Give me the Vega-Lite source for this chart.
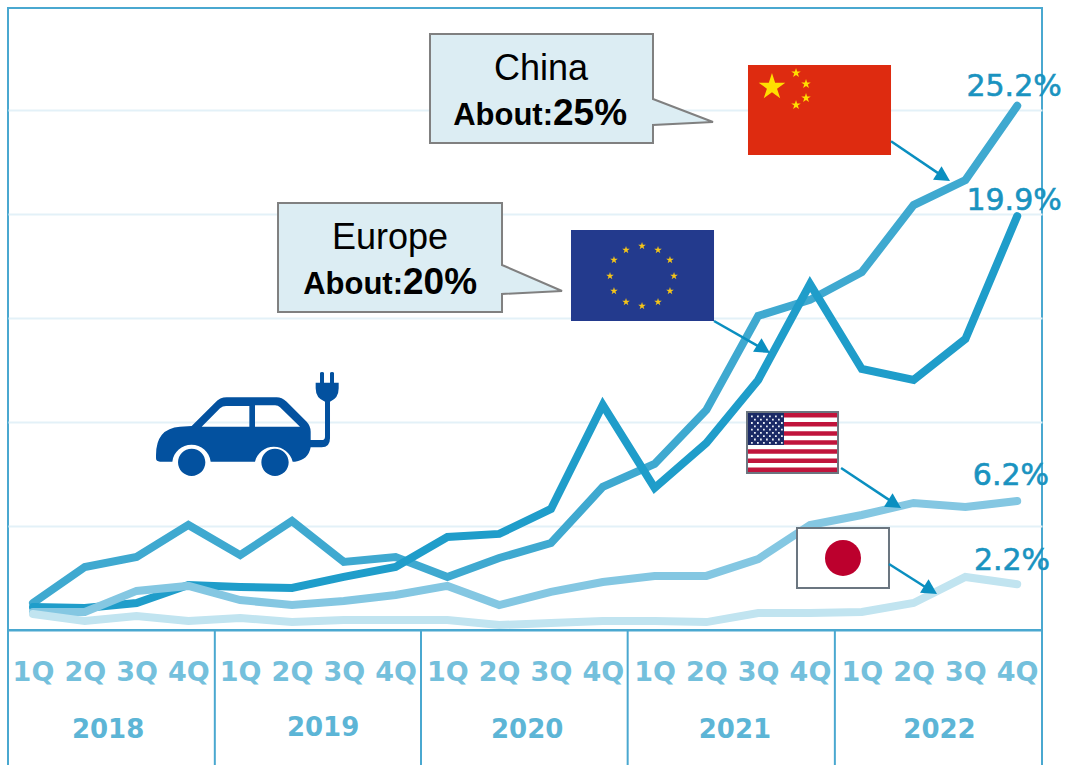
{
"$schema":"https://vega.github.io/schema/vega-lite/v6.json",
"width":1034,"height":622,
"autosize":"none",
"padding":{"left":8,"top":8,"right":28,"bottom":135},
"background":"white",
"config":{"view":{"stroke":"#4aa8d0","strokeWidth":2}},
"encoding":{
 "x":{"field":"q","type":"quantitative","scale":{"domain":[-0.4826,19.4788],"nice":false,"zero":false},
  "axis":{"orient":"bottom","title":null,"values":[0,1,2,3,4,5,6,7,8,9,10,11,12,13,14,15,16,17,18,19],"grid":false,"ticks":false,"domain":true,"domainColor":"#4aa8d0","domainWidth":2,
   "labelExpr":"['1Q','2Q','3Q','4Q'][datum.value % 4]","labelFont":"DejaVu Sans","labelFontWeight":"bold","labelFontSize":27,"labelColor":"#74c0dc","labelPadding":29,"labelOverlap":false,"labelFlush":false,"labelBound":false}},
 "y":{"field":"v","type":"quantitative","scale":{"domain":[0,29.904],"nice":false,"zero":false},
  "axis":{"title":null,"values":[5,10,15,20,25],"grid":true,"gridColor":"#e3f1f8","gridWidth":2,"ticks":false,"labels":false,"domain":false}}
},
"layer":[
{"data":{"values":[
{"series":"China","q":0,"v":1.3},{"series":"China","q":1,"v":3.03},{"series":"China","q":2,"v":3.51},{"series":"China","q":3,"v":5.05},{"series":"China","q":4,"v":3.6},{"series":"China","q":5,"v":5.24},{"series":"China","q":6,"v":3.27},{"series":"China","q":7,"v":3.51},{"series":"China","q":8,"v":2.55},{"series":"China","q":9,"v":3.46},{"series":"China","q":10,"v":4.18},{"series":"China","q":11,"v":6.88},{"series":"China","q":12,"v":7.98},{"series":"China","q":13,"v":10.58},{"series":"China","q":14,"v":15.1},{"series":"China","q":15,"v":15.87},{"series":"China","q":16,"v":17.2},{"series":"China","q":17,"v":20.43},{"series":"China","q":18,"v":21.63},{"series":"China","q":19,"v":25.2},
{"series":"Europe","q":0,"v":1.1},{"series":"Europe","q":1,"v":1.06},{"series":"Europe","q":2,"v":1.3},{"series":"Europe","q":3,"v":2.16},{"series":"Europe","q":4,"v":2.07},{"series":"Europe","q":5,"v":2.02},{"series":"Europe","q":6,"v":2.55},{"series":"Europe","q":7,"v":3.03},{"series":"Europe","q":8,"v":4.47},{"series":"Europe","q":9,"v":4.62},{"series":"Europe","q":10,"v":5.82},{"series":"Europe","q":11,"v":10.82},{"series":"Europe","q":12,"v":6.83},{"series":"Europe","q":13,"v":8.99},{"series":"Europe","q":14,"v":12.02},{"series":"Europe","q":15,"v":16.63},{"series":"Europe","q":16,"v":12.55},{"series":"Europe","q":17,"v":12.02},{"series":"Europe","q":18,"v":13.99},{"series":"Europe","q":19,"v":19.9},
{"series":"USA","q":0,"v":0.87},{"series":"USA","q":1,"v":0.87},{"series":"USA","q":2,"v":1.88},{"series":"USA","q":3,"v":2.12},{"series":"USA","q":4,"v":1.44},{"series":"USA","q":5,"v":1.2},{"series":"USA","q":6,"v":1.39},{"series":"USA","q":7,"v":1.68},{"series":"USA","q":8,"v":2.12},{"series":"USA","q":9,"v":1.2},{"series":"USA","q":10,"v":1.83},{"series":"USA","q":11,"v":2.31},{"series":"USA","q":12,"v":2.6},{"series":"USA","q":13,"v":2.6},{"series":"USA","q":14,"v":3.41},{"series":"USA","q":15,"v":5.05},{"series":"USA","q":16,"v":5.53},{"series":"USA","q":17,"v":6.11},{"series":"USA","q":18,"v":5.91},{"series":"USA","q":19,"v":6.2},
{"series":"Japan","q":0,"v":0.77},{"series":"Japan","q":1,"v":0.43},{"series":"Japan","q":2,"v":0.67},{"series":"Japan","q":3,"v":0.43},{"series":"Japan","q":4,"v":0.58},{"series":"Japan","q":5,"v":0.38},{"series":"Japan","q":6,"v":0.48},{"series":"Japan","q":7,"v":0.48},{"series":"Japan","q":8,"v":0.48},{"series":"Japan","q":9,"v":0.24},{"series":"Japan","q":10,"v":0.34},{"series":"Japan","q":11,"v":0.43},{"series":"Japan","q":12,"v":0.43},{"series":"Japan","q":13,"v":0.38},{"series":"Japan","q":14,"v":0.82},{"series":"Japan","q":15,"v":0.82},{"series":"Japan","q":16,"v":0.87},{"series":"Japan","q":17,"v":1.3},{"series":"Japan","q":18,"v":2.55},{"series":"Japan","q":19,"v":2.2}
]},
"mark":{"type":"line","strokeWidth":8,"strokeCap":"round","strokeJoin":"miter"},
"encoding":{
 "color":{"field":"series","type":"nominal","legend":null,"scale":{"domain":["China","Europe","USA","Japan"],"range":["#3fa9d0","#1f9dca","#84c7e2","#c1e4f0"]}}
}},
{"data":{"values":[{"q":-0.4826,"v":0,"v2":-6.49},{"q":3.51,"v":0,"v2":-6.49},{"q":7.49,"v":0,"v2":-6.49},{"q":11.48,"v":0,"v2":-6.49},{"q":15.48,"v":0,"v2":-6.49},{"q":19.4788,"v":0,"v2":-6.49}]},
"mark":{"type":"rule","stroke":"#4aa8d0","strokeWidth":2},
"encoding":{"y2":{"field":"v2"}}},
{"data":{"values":[{"q":1.45,"v":-5.2,"year":"2018"},{"q":5.6,"v":-5.1,"year":"2019"},{"q":9.54,"v":-5.2,"year":"2020"},{"q":13.55,"v":-5.2,"year":"2021"},{"q":17.5,"v":-5.2,"year":"2022"}]},
"mark":{"type":"text","font":"DejaVu Sans","fontWeight":"bold","fontSize":26,"color":"#5cb5d6","align":"center","baseline":"alphabetic"},
"encoding":{"text":{"field":"year"}}},
{"data":{"values":[{"q":7.664,"v":28.654}]},
"mark":{"type":"point","filled":true,"fill":"#dcedf3","stroke":"#808080","strokeWidth":2,"opacity":1,"size":4,"shape":"M0 0H223V65L283 88L223 91V109H0Z"}},
{"data":{"values":[{"q":4.73,"v":20.529}]},
"mark":{"type":"point","filled":true,"fill":"#dcedf3","stroke":"#808080","strokeWidth":2,"opacity":1,"size":4,"shape":"M0 0H224V62L284 88L224 91V109H0Z"}},
{"data":{"values":[{"q":2.066,"v":12.981}]},
"mark":{"type":"point","filled":true,"fill":"#03519f","opacity":1,"size":0.4444,"shape":"M48 285Q48 205 120 200L155 198L225 128Q240 112 260 112L410 112Q425 112 440 125L500 185Q512 198 512 215L512 240L545 240Q555 240 555 230L555 125Q527 115 527 85L527 68L540 68L540 40Q540 36 546 36Q552 36 552 40L552 68L570 68L570 40Q570 36 576 36Q582 36 582 40L582 68L596 68L596 85Q596 115 570 125L570 235Q570 262 545 262L512 262Q505 300 465 305L458 305A58 58 0 0 0 345 305L212 305A58 58 0 0 0 97 305L60 305Q48 305 48 295ZM185 200L328 200L328 138L258 138Q248 138 240 145ZM345 200L480 200L420 142Q414 136 405 136L345 136ZM114 307A41 41 0 1 1 196 307A41 41 0 1 1 114 307ZM364 307A41 41 0 1 1 446 307A41 41 0 1 1 364 307Z"}},
{"data":{"values":[{"q":13.803,"q2":16.564,"v":27.163,"v2":22.837}]},
"mark":{"type":"rect","fill":"#de2b10"},
"encoding":{"x2":{"field":"q2"},"y2":{"field":"v2"}}},
{"data":{"values":[{"q":10.386,"q2":13.147,"v":19.231,"v2":14.856}]},
"mark":{"type":"rect","fill":"#233a8d"},
"encoding":{"x2":{"field":"q2"},"y2":{"field":"v2"}}},
{"data":{"values":[{"q":13.784,"q2":15.541,"v":10.481,"v2":7.548},{"q":14.749,"q2":16.525,"v":4.904,"v2":2.019}]},
"mark":{"type":"rect","fill":"#ffffff","stroke":"#6b7680","strokeWidth":2},
"encoding":{"x2":{"field":"q2"},"y2":{"field":"v2"}}},
{"data":{"values":[{"q":13.803,"v":10.433}]},
"mark":{"type":"point","filled":true,"fill":"#c0143c","opacity":1,"size":4,"shape":"M0 0h89v4.5h-89zM0 9.1h89v4.5h-89zM0 18.2h89v4.5h-89zM0 27.2h89v4.5h-89zM0 36.3h89v4.5h-89zM0 45.4h89v4.5h-89zM0 54.5h89v4.5h-89z"}},
{"data":{"values":[{"q":13.803,"v":10.433}]},
"mark":{"type":"point","filled":true,"fill":"#1b2a66","opacity":1,"size":4,"shape":"M0 0h36v32h-36z"}},
{"data":{"values":[{"q":13.803,"v":10.433}]},
"mark":{"type":"point","filled":true,"fill":"#e8ecf4","opacity":1,"size":4,"shape":"M3 2.5h1.8v1.8h-1.8zM9 2.5h1.8v1.8h-1.8zM15 2.5h1.8v1.8h-1.8zM21 2.5h1.8v1.8h-1.8zM27 2.5h1.8v1.8h-1.8zM33 2.5h1.8v1.8h-1.8zM6 5.8h1.8v1.8h-1.8zM12 5.8h1.8v1.8h-1.8zM18 5.8h1.8v1.8h-1.8zM24 5.8h1.8v1.8h-1.8zM30 5.8h1.8v1.8h-1.8zM3 9.1h1.8v1.8h-1.8zM9 9.1h1.8v1.8h-1.8zM15 9.1h1.8v1.8h-1.8zM21 9.1h1.8v1.8h-1.8zM27 9.1h1.8v1.8h-1.8zM33 9.1h1.8v1.8h-1.8zM6 12.4h1.8v1.8h-1.8zM12 12.4h1.8v1.8h-1.8zM18 12.4h1.8v1.8h-1.8zM24 12.4h1.8v1.8h-1.8zM30 12.4h1.8v1.8h-1.8zM3 15.7h1.8v1.8h-1.8zM9 15.7h1.8v1.8h-1.8zM15 15.7h1.8v1.8h-1.8zM21 15.7h1.8v1.8h-1.8zM27 15.7h1.8v1.8h-1.8zM33 15.7h1.8v1.8h-1.8zM6 19h1.8v1.8h-1.8zM12 19h1.8v1.8h-1.8zM18 19h1.8v1.8h-1.8zM24 19h1.8v1.8h-1.8zM30 19h1.8v1.8h-1.8zM3 22.3h1.8v1.8h-1.8zM9 22.3h1.8v1.8h-1.8zM15 22.3h1.8v1.8h-1.8zM21 22.3h1.8v1.8h-1.8zM27 22.3h1.8v1.8h-1.8zM33 22.3h1.8v1.8h-1.8zM6 25.6h1.8v1.8h-1.8zM12 25.6h1.8v1.8h-1.8zM18 25.6h1.8v1.8h-1.8zM24 25.6h1.8v1.8h-1.8zM30 25.6h1.8v1.8h-1.8zM3 28.9h1.8v1.8h-1.8zM9 28.9h1.8v1.8h-1.8zM15 28.9h1.8v1.8h-1.8zM21 28.9h1.8v1.8h-1.8zM27 28.9h1.8v1.8h-1.8zM33 28.9h1.8v1.8h-1.8z"}},
{"data":{"values":[{"q":15.637,"v":3.462}]},
"mark":{"type":"point","shape":"circle","filled":true,"fill":"#bc002d","opacity":1,"size":1296}},
{"data":{"values":[{"q":14.266,"v":26.106}]},
"mark":{"type":"point","filled":true,"fill":"#ffde00","opacity":1,"size":784,"shape":"M0 -1L.225 -.309L.951 -.309L.363 .118L.588 .809L0 .382L-.588 .809L-.363 .118L-.951 -.309L-.225 -.309Z"}},
{"data":{"values":[{"q":14.73,"v":26.779},{"q":14.923,"v":26.25},{"q":14.923,"v":25.577},{"q":14.73,"v":25.24}]},
"mark":{"type":"point","filled":true,"fill":"#ffde00","opacity":1,"size":100,"shape":"M0 -1L.225 -.309L.951 -.309L.363 .118L.588 .809L0 .382L-.588 .809L-.363 .118L-.951 -.309L-.225 -.309Z"}},
{"data":{"values":[{"q":11.757,"v":18.462},{"q":12.066,"v":18.269},{"q":12.297,"v":17.788},{"q":12.375,"v":17.019},{"q":12.297,"v":16.298},{"q":12.066,"v":15.769},{"q":11.757,"v":15.577},{"q":11.448,"v":15.769},{"q":11.216,"v":16.298},{"q":11.139,"v":17.019},{"q":11.216,"v":17.788},{"q":11.448,"v":18.269}]},
"mark":{"type":"point","filled":true,"fill":"#f5c518","opacity":1,"size":64,"shape":"M0 -1L.225 -.309L.951 -.309L.363 .118L.588 .809L0 .382L-.588 .809L-.363 .118L-.951 -.309L-.225 -.309Z"}},
{"data":{"values":[
{"q":16.564,"v":23.5,"q2":17.6,"v2":21.75},
{"q":13.147,"v":14.856,"q2":14.1,"v2":13.5},
{"q":15.6,"v":7.79,"q2":16.65,"v2":6.05},
{"q":16.525,"v":3.17,"q2":17.3,"v2":1.95}
]},
"mark":{"type":"rule","stroke":"#0a8fc0","strokeWidth":2.5},
"encoding":{"x2":{"field":"q2"},"y2":{"field":"v2"}}},
{"data":{"values":[{"q":17.703,"v":21.587},{"q":14.228,"v":13.317},{"q":16.757,"v":5.865},{"q":17.452,"v":1.731}]},
"mark":{"type":"point","filled":true,"fill":"#0a8fc0","opacity":1,"size":4,"angle":122,"shape":"M0 0L-8 15L8 15Z"}},
{"data":{"values":[{"q":9.807,"v":26.442,"name":"China"},{"q":6.892,"v":18.317,"name":"Europe"}]},
"mark":{"type":"text","font":"Liberation Sans","fontSize":36,"color":"#000000","align":"center","baseline":"alphabetic"},
"encoding":{"text":{"field":"name"}}},
{"data":{"values":[{"q":10.039,"v":24.279,"about":"About:"},{"q":7.143,"v":16.154,"about":"About:"}]},
"mark":{"type":"text","font":"Liberation Sans","fontSize":31,"fontWeight":"bold","color":"#000000","align":"right","baseline":"alphabetic"},
"encoding":{"text":{"field":"about"}}},
{"data":{"values":[{"q":10.039,"v":24.279,"share":"25%"},{"q":7.143,"v":16.154,"share":"20%"}]},
"mark":{"type":"text","font":"Liberation Sans","fontSize":37,"fontWeight":"bold","color":"#000000","align":"left","baseline":"alphabetic"},
"encoding":{"text":{"field":"share"}}},
{"data":{"values":[{"q":18.94,"v":25.67,"label":"25.2%"},{"q":18.94,"v":20.19,"label":"19.9%"},{"q":18.88,"v":6.97,"label":"6.2%"},{"q":18.9,"v":2.885,"label":"2.2%"}]},
"mark":{"type":"text","font":"DejaVu Sans","fontSize":30,"color":"#1a93c0","stroke":"#1a93c0","strokeWidth":0.6,"align":"center","baseline":"alphabetic"},
"encoding":{"text":{"field":"label"}}}
]
}
